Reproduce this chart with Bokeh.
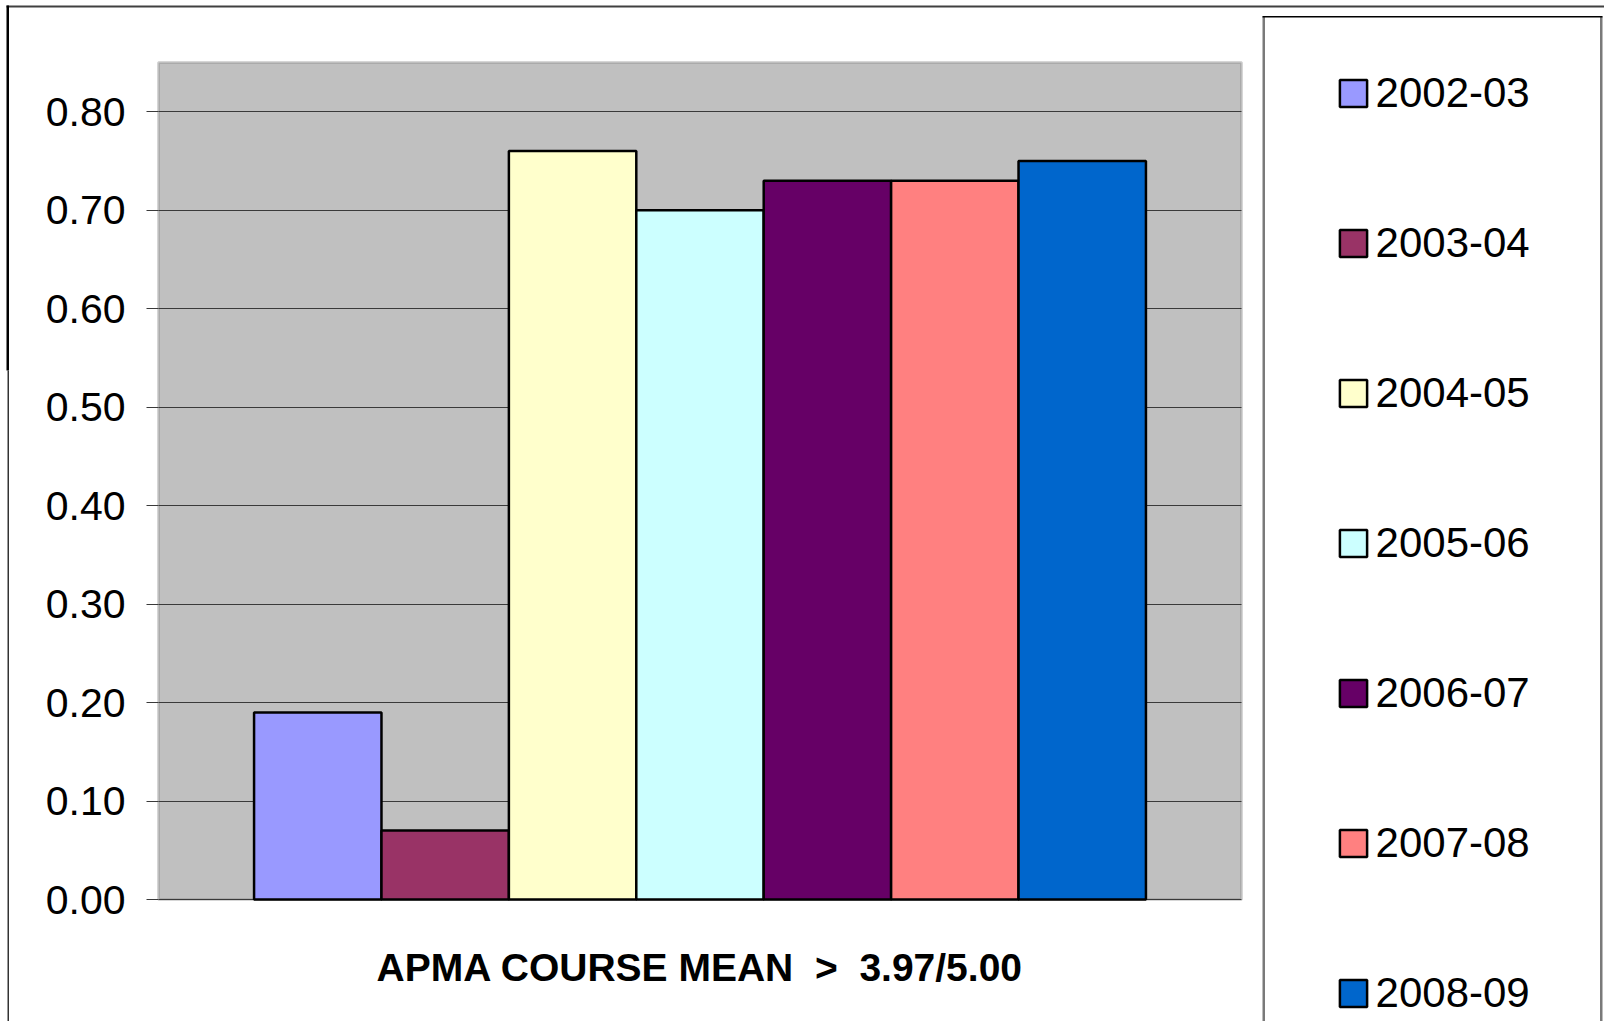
from bokeh.plotting import figure
from bokeh.models import (ColumnDataSource, Range1d, FixedTicker, PrintfTickFormatter,
                          Legend, LegendItem, BoxAnnotation, Label)
from bokeh.embed import file_html
from bokeh.resources import INLINE

# ---- data ----
series = ["2002-03", "2003-04", "2004-05", "2005-06", "2006-07", "2007-08", "2008-09"]
values = [0.19, 0.07, 0.76, 0.70, 0.73, 0.73, 0.75]
colors = ["#9999FF", "#993366", "#FFFFCC", "#CCFFFF", "#660066", "#FF8080", "#0066CC"]
y_ticks = [0.0, 0.1, 0.2, 0.3, 0.4, 0.5, 0.6, 0.7, 0.8]
y_max = 0.85
axis_title = "APMA COURSE MEAN  >  3.97/5.00"

# ---- layout constants (pixel coords in the picture) ----
W, H = 1604, 1021
PL, PT, PR, PB = 158, 62, 1241, 899    # gray plot-area edges
GAP = 1.5                              # Excel gap width (150%)
n = len(series)
bw = 1.0 / (n + GAP)
xs = [-0.5 + GAP * bw / 2 + (i + 0.5) * bw for i in range(n)]

kx = (PR - PL) / 1.0          # px per x unit
ky = (PB - PT) / y_max        # px per y unit
x0 = -0.5 - PL / kx
x1 = 0.5 + (W - PR) / kx
y0 = -(H - PB) / ky
y1 = y_max + PT / ky

def dx(px):  # pixel x -> data x
    return -0.5 + (px - PL) / kx

def dy(py):  # pixel y -> data y
    return (PB - py) / ky

src = ColumnDataSource(dict(x=xs, top=values, color=colors, label=series))

p = figure(width=W, height=H, output_backend="svg", toolbar_location=None,
           x_range=Range1d(x0, x1), y_range=Range1d(y0, y1),
           x_axis_location=None, min_border=0)

p.background_fill_color = "white"
p.border_fill_color = "white"
p.outline_line_color = None

# gray plot area
p.add_layout(BoxAnnotation(left=-0.5, right=0.5, bottom=0, top=y_max, level="image",
                           fill_color="#C0C0C0", fill_alpha=1,
                           line_color="#767676", line_width=3))

p.xgrid.grid_line_color = None
p.ygrid.ticker = FixedTicker(ticks=y_ticks)
try:
    p.ygrid[0].cross_bounds = (-0.5, 0.5)
    p.ygrid.grid_line_color = "#3a3a3a"
    p.ygrid.grid_line_width = 1
except Exception:
    p.ygrid.grid_line_color = None
    p.segment(x0=-0.5, x1=0.5, y0=y_ticks[1:], y1=y_ticks[1:],
              line_color="#3a3a3a", line_width=1)

ya = p.yaxis[0]
ya.fixed_location = -0.5
ya.bounds = (0, y_max)
ya.ticker = FixedTicker(ticks=y_ticks)
ya.formatter = PrintfTickFormatter(format="%.2f")
ya.axis_line_color = None
ya.major_tick_out = 12
ya.major_tick_in = 0
ya.major_tick_line_color = "#3a3a3a"
ya.minor_tick_line_color = None
ya.major_label_standoff = 21
ya.major_label_text_font = "Liberation Sans"
ya.major_label_text_font_size = "41px"
ya.major_label_text_color = "black"

r = p.vbar(x="x", top="top", bottom=0, width=bw, fill_color="color",
           line_color="black", line_width=2.5, source=src)

# outer slide frame lines
p.add_layout(BoxAnnotation(left=dx(6), right=dx(1620), top=dy(5), bottom=dy(7),
                           fill_color="#404040", fill_alpha=1, line_alpha=0))
p.add_layout(BoxAnnotation(left=dx(6), right=dx(8.5), top=dy(5), bottom=dy(370),
                           fill_color="black", fill_alpha=1, line_alpha=0))
p.add_layout(BoxAnnotation(left=dx(7), right=dx(8.5), top=dy(370), bottom=dy(1060),
                           fill_color="#333333", fill_alpha=1, line_alpha=0))
# legend box
p.add_layout(BoxAnnotation(left=dx(1263), right=dx(1600.5), top=dy(16), bottom=dy(1080),
                           fill_color="white", fill_alpha=1, line_alpha=0))
for lx in (1262, 1599.5):
    p.add_layout(BoxAnnotation(left=dx(lx), right=dx(lx + 2.5), top=dy(16), bottom=dy(1080),
                               fill_color="#7a7a7a", fill_alpha=1, line_alpha=0))
p.add_layout(BoxAnnotation(left=dx(1262), right=dx(1602), top=dy(15.5), bottom=dy(17),
                           fill_color="black", fill_alpha=1, line_alpha=0))

items = [LegendItem(label=s, renderers=[r], index=i) for i, s in enumerate(series)]
legend = Legend(items=items, location=(1335.6, H - 1018),
                padding=0, margin=0, spacing=100,
                glyph_width=34, glyph_height=34, label_height=50,
                label_standoff=6,
                label_text_font="Liberation Sans", label_text_font_size="42px",
                label_text_color="black",
                border_line_alpha=0, background_fill_alpha=0)
p.add_layout(legend)

shown_title = axis_title.replace("  ", " \u00a0")
p.add_layout(Label(x=0, y=dy(967), text=shown_title,
                   text_align="center", text_baseline="middle",
                   text_font="Liberation Sans", text_font_style="bold",
                   text_font_size="39px", text_color="black"))

open("out.html", "w").write(file_html(p, INLINE))
